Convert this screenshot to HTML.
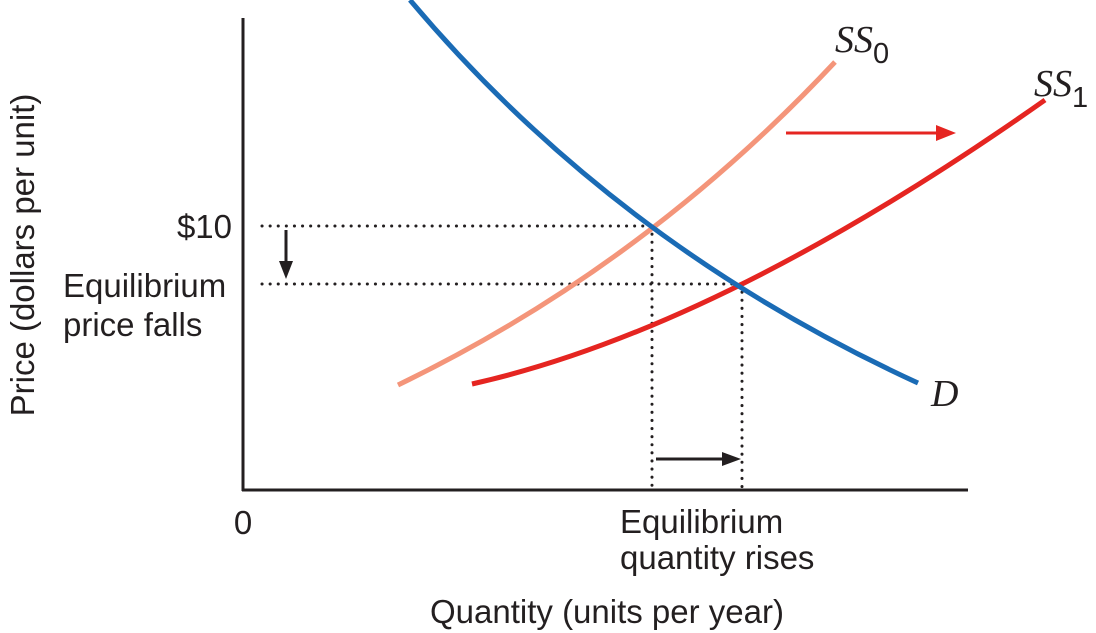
<!DOCTYPE html>
<html><head><meta charset="utf-8"><style>
html,body{margin:0;padding:0;background:#fff;}
svg{display:block;}
.lbl{font-family:"Liberation Sans",sans-serif;font-size:33px;fill:#231f20;}
.it{font-family:"Liberation Serif",serif;font-style:italic;font-size:38px;fill:#231f20;}
.sub{font-family:"Liberation Sans",sans-serif;font-style:normal;font-size:29px;}
</style></head><body>
<svg id="chart" width="1096" height="633" viewBox="0 0 1096 633">
<g id="marks"></g>
<line x1="243" y1="18" x2="243" y2="491" stroke="#231f20" stroke-width="3"/>
<line x1="242" y1="490" x2="968" y2="490" stroke="#231f20" stroke-width="3"/>
<text class="lbl" x="232" y="238" text-anchor="end">$10</text>
<text class="lbl" x="63" y="297">Equilibrium</text>
<text class="lbl" x="63" y="336">price falls</text>
<text class="lbl" x="243" y="534" text-anchor="middle">0</text>
<text class="lbl" x="620" y="533">Equilibrium</text>
<text class="lbl" x="620" y="569">quantity rises</text>
<text class="lbl" x="607" y="623" text-anchor="middle">Quantity (units per year)</text>
<text class="lbl" x="34" y="255" text-anchor="middle" transform="rotate(-90 34 255)">Price (dollars per unit)</text>
<text class="it" x="835" y="52">SS<tspan class="sub" dy="11">0</tspan></text>
<text class="it" x="1034" y="96">SS<tspan class="sub" dy="11">1</tspan></text>
<text class="it" x="931" y="406">D</text>
<line x1="786" y1="133" x2="940" y2="133" stroke="#e52521" stroke-width="3"/>
<polygon points="956,133 936,125 936,141" fill="#e52521"/>
<line x1="656" y1="459" x2="724" y2="459" stroke="#231f20" stroke-width="3"/>
<polygon points="741,459 722,452 722,466" fill="#231f20"/>
<line x1="286" y1="230" x2="286" y2="264" stroke="#231f20" stroke-width="3"/>
<polygon points="286,279 279,261 293,261" fill="#231f20"/>
</svg>
<script>
// curve points: start, middle (passes through), end — in data units
const demandQ = [167,397,675];
const demandP = [490,272,107];
const ss0Q = [155,387,592];
const ss0P = [105,245,428];
const ss1Q = [229,497,802];
const ss1P = [106,205,390];
const eqQ = [409,499];
const eqP = [264,206];

const X0=243, Y0=490;
function sx(v){return X0+v;}
function sy(v){return Y0-v;}
const NS='http://www.w3.org/2000/svg';
const g=document.getElementById('marks');
function quad(qs,ps){
  const S=[sx(qs[0]),sy(ps[0])],M=[sx(qs[1]),sy(ps[1])],E=[sx(qs[2]),sy(ps[2])];
  const C=[2*M[0]-(S[0]+E[0])/2,2*M[1]-(S[1]+E[1])/2];
  return 'M'+S[0]+','+S[1]+' Q'+C[0]+','+C[1]+' '+E[0]+','+E[1];
}
function line(x1,y1,x2,y2,name){
  const l=document.createElementNS(NS,'line');
  l.setAttribute('x1',x1);l.setAttribute('y1',y1);l.setAttribute('x2',x2);l.setAttribute('y2',y2);
  l.setAttribute('stroke','#231f20');l.setAttribute('stroke-width','3');l.setAttribute('stroke-dasharray','0.1 8');
  l.setAttribute('stroke-linecap','round');
  
  
  g.appendChild(l);
}
for(let i=0;i<eqQ.length;i++){
  line(262,sy(eqP[i]),sx(eqQ[i]),sy(eqP[i]),'price-guide-'+i);
  line(sx(eqQ[i]),sy(eqP[i]),sx(eqQ[i]),Y0,'quantity-guide-'+i);
}
function curve(qs,ps,color,name){
  const p=document.createElementNS(NS,'path');
  p.setAttribute('d',quad(qs,ps));
  p.setAttribute('fill','none');p.setAttribute('stroke',color);p.setAttribute('stroke-width','5');
  
  
  g.appendChild(p);
}
curve(ss0Q,ss0P,'#f4957a','supply-curve-ss0');
curve(ss1Q,ss1P,'#e52521','supply-curve-ss1');
curve(demandQ,demandP,'#1a6bb5','demand-curve');
</script>
</body></html>
